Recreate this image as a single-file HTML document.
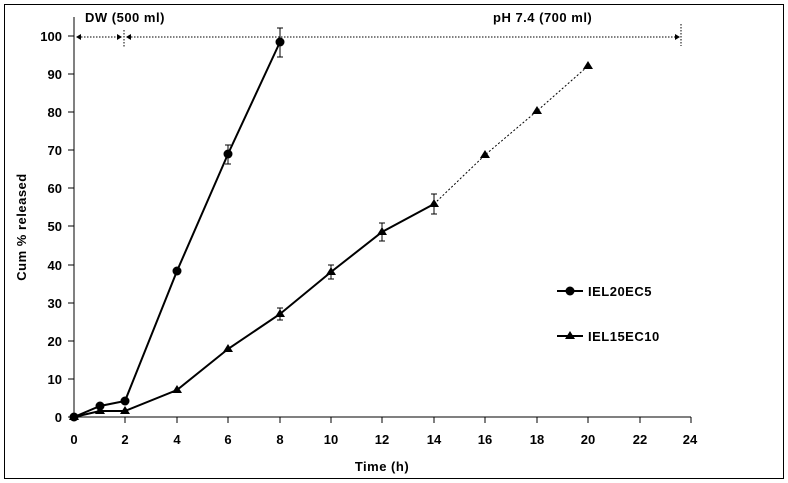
<!DOCTYPE html>
<html><head><style>body{margin:0;background:#fff}svg{display:block}text{font-family:"Liberation Sans",Arial,sans-serif;font-weight:bold;font-size:13px;fill:#000}</style></head>
<body>
<svg width="788" height="483" xmlns="http://www.w3.org/2000/svg">
<rect x="4.5" y="4.5" width="779" height="474" fill="none" stroke="#000" stroke-width="1"/>
<line x1="74" y1="17" x2="74" y2="417" stroke="#000"/>
<line x1="74" y1="417" x2="691" y2="417" stroke="#000"/>
<g stroke="#000">
<line x1="68" y1="417" x2="74" y2="417"/><line x1="68" y1="379" x2="74" y2="379"/><line x1="68" y1="341" x2="74" y2="341"/><line x1="68" y1="303" x2="74" y2="303"/><line x1="68" y1="265" x2="74" y2="265"/><line x1="68" y1="226" x2="74" y2="226"/><line x1="68" y1="188" x2="74" y2="188"/><line x1="68" y1="150" x2="74" y2="150"/><line x1="68" y1="112" x2="74" y2="112"/><line x1="68" y1="74" x2="74" y2="74"/><line x1="68" y1="36" x2="74" y2="36"/>
<line x1="125" y1="417" x2="125" y2="423"/><line x1="177" y1="417" x2="177" y2="423"/><line x1="228" y1="417" x2="228" y2="423"/><line x1="280" y1="417" x2="280" y2="423"/><line x1="331" y1="417" x2="331" y2="423"/><line x1="382" y1="417" x2="382" y2="423"/><line x1="434" y1="417" x2="434" y2="423"/><line x1="485" y1="417" x2="485" y2="423"/><line x1="537" y1="417" x2="537" y2="423"/><line x1="588" y1="417" x2="588" y2="423"/><line x1="640" y1="417" x2="640" y2="423"/><line x1="691" y1="417" x2="691" y2="423"/>
</g>
<g text-anchor="end">
<text x="62" y="422">0</text><text x="62" y="384">10</text><text x="62" y="346">20</text><text x="62" y="308">30</text><text x="62" y="270">40</text><text x="62" y="231">50</text><text x="62" y="193">60</text><text x="62" y="155">70</text><text x="62" y="117">80</text><text x="62" y="79">90</text><text x="62" y="41">100</text>
</g>
<g text-anchor="middle">
<text x="74" y="444">0</text><text x="125" y="444">2</text><text x="177" y="444">4</text><text x="228" y="444">6</text><text x="280" y="444">8</text><text x="331" y="444">10</text><text x="382" y="444">12</text><text x="434" y="444">14</text><text x="485" y="444">16</text><text x="537" y="444">18</text><text x="588" y="444">20</text><text x="640" y="444">22</text><text x="690" y="444">24</text>
<text x="382" y="471" letter-spacing="0.5">Time (h)</text>
<text transform="translate(26,227) rotate(-90)" letter-spacing="0.5">Cum % released</text>
</g>
<text x="85" y="22" letter-spacing="0.5">DW (500 ml)</text>
<text x="493" y="22" letter-spacing="0.5">pH  7.4 (700 ml)</text>
<g stroke="#000" stroke-dasharray="1.5,1.5">
<line x1="78" y1="37" x2="120" y2="37"/><line x1="128" y1="37" x2="679" y2="37"/><line x1="124" y1="30" x2="124" y2="48"/><line x1="681" y1="24" x2="681" y2="46"/>
</g>
<g fill="#000"><path d="M76 37l5-3v6z"/><path d="M122 37l-5-3v6z"/><path d="M126 37l5-3v6z"/><path d="M680 37l-5-3v6z"/></g>
<polyline points="74,417 100,406 125,401 177,271 228,154 280,42" fill="none" stroke="#000" stroke-width="2"/>
<g stroke="#000"><line x1="228" y1="145" x2="228" y2="164"/><line x1="225" y1="145" x2="231" y2="145"/><line x1="225" y1="164" x2="231" y2="164"/>
<line x1="280" y1="28" x2="280" y2="57"/><line x1="277" y1="28" x2="283" y2="28"/><line x1="277" y1="57" x2="283" y2="57"/></g>
<g fill="#000"><circle cx="74" cy="417" r="4.5"/><circle cx="100" cy="406" r="4.5"/><circle cx="125" cy="401" r="4.5"/><circle cx="177" cy="271" r="4.5"/><circle cx="228" cy="154" r="4.5"/><circle cx="280" cy="42" r="4.5"/></g>
<polyline points="74,417 100,411 125,411 177,390 228,349 280,314 331,272 382,232 434,204" fill="none" stroke="#000" stroke-width="2"/>
<polyline points="434,204 485,155 537,111 588,66" fill="none" stroke="#000" stroke-width="1" stroke-dasharray="2,2"/>
<g stroke="#000"><line x1="280" y1="308" x2="280" y2="320"/><line x1="277" y1="308" x2="283" y2="308"/><line x1="277" y1="320" x2="283" y2="320"/>
<line x1="331" y1="265" x2="331" y2="279"/><line x1="328" y1="265" x2="334" y2="265"/><line x1="328" y1="279" x2="334" y2="279"/>
<line x1="382" y1="223" x2="382" y2="241"/><line x1="379" y1="223" x2="385" y2="223"/><line x1="379" y1="241" x2="385" y2="241"/>
<line x1="434" y1="194" x2="434" y2="214"/><line x1="431" y1="194" x2="437" y2="194"/><line x1="431" y1="214" x2="437" y2="214"/></g>
<g fill="#000">
<path d="M74 412l5 8h-10z"/><path d="M100 406l5 8h-10z"/><path d="M125 406l5 8h-10z"/><path d="M177 385l5 8h-10z"/><path d="M228 344l5 8h-10z"/><path d="M280 309l5 8h-10z"/><path d="M331 267l5 8h-10z"/><path d="M382 227l5 8h-10z"/><path d="M434 199l5 8h-10z"/><path d="M485 150l5 8h-10z"/><path d="M537 106l5 8h-10z"/><path d="M588 61l5 8h-10z"/>
</g>
<line x1="557" y1="291" x2="583" y2="291" stroke="#000" stroke-width="2"/><circle cx="570" cy="291" r="4.5" fill="#000"/>
<text x="588" y="296" letter-spacing="0.5">IEL20EC5</text>
<line x1="557" y1="336" x2="583" y2="336" stroke="#000" stroke-width="2"/><path d="M570 331l5 8h-10z" fill="#000"/>
<text x="588" y="341" letter-spacing="0.5">IEL15EC10</text>
</svg>
</body></html>
